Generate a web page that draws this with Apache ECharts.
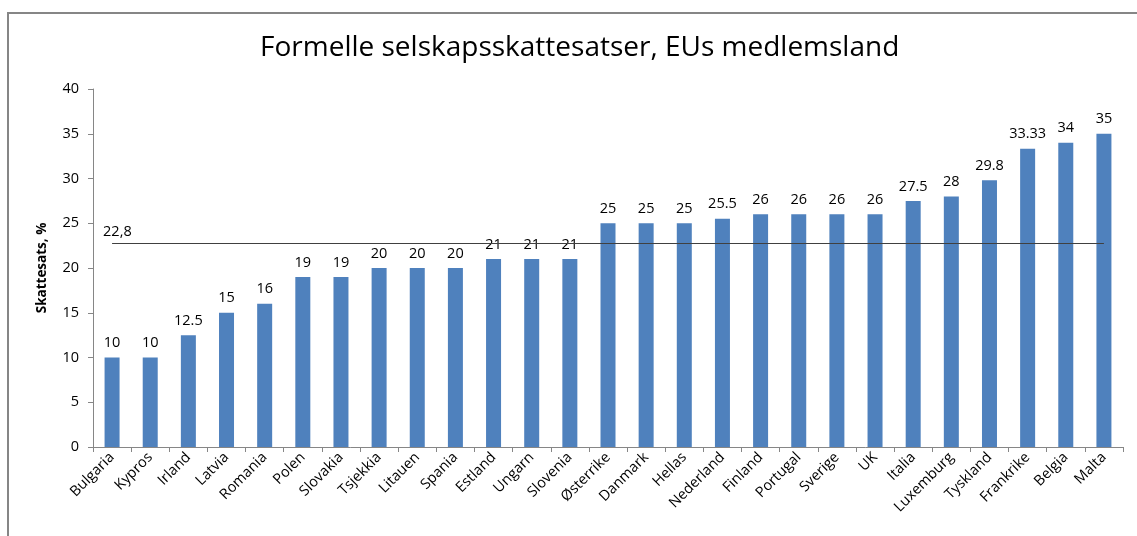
<!DOCTYPE html>
<html>
<head>
<meta charset="utf-8">
<script src="https://cdn.jsdelivr.net/npm/echarts@6/dist/echarts.min.js"></script>
<style>
  html, body { margin: 0; padding: 0; background: #fff; }
  #chart { width: 1137px; height: 536px; }
</style>
</head>
<body>
<div id="chart"></div>
<script>
  // land og formelle satser (%)
  var countries = ['Bulgaria', 'Kypros', 'Irland', 'Latvia', 'Romania', 'Polen', 'Slovakia', 'Tsjekkia',
    'Litauen', 'Spania', 'Estland', 'Ungarn', 'Slovenia', 'Østerrike', 'Danmark', 'Hellas', 'Nederland',
    'Finland', 'Portugal', 'Sverige', 'UK', 'Italia', 'Luxemburg', 'Tyskland', 'Frankrike', 'Belgia', 'Malta'];
  var rates = [10, 10, 12.5, 15, 16, 19, 19, 20, 20, 20, 21, 21, 21, 25, 25, 25, 25.5, 26, 26, 26, 26,
    27.5, 28, 29.8, 33.33, 34, 35];
  var average = 22.8;
  var averageLabel = '22,8';

  var font = 'Open Sans';
  var chart = echarts.init(document.getElementById('chart'));
  var option = {
    animation: false,
    textStyle: { fontFamily: font },
    title: {
      text: 'Formelle selskapsskattesatser, EUs medlemsland',
      left: 255,
      top: 29,
      textStyle: { fontFamily: font, fontSize: 28, fontWeight: 'normal', color: '#000' }
    },
    graphic: [{
      type: 'rect',
      shape: { x: 8, y: 13, width: 1300, height: 700 },
      style: { fill: null, stroke: '#868686', lineWidth: 2 },
      silent: true
    }],
    grid: { left: 93, right: 14, top: 89, bottom: 89 },
    xAxis: {
      type: 'category',
      data: countries,
      axisLine: { lineStyle: { color: '#868686' } },
      axisTick: { show: true, alignWithLabel: false, lineStyle: { color: '#868686' } },
      axisLabel: { rotate: 45, interval: 0, fontSize: 14.5, color: '#000', margin: 8 }
    },
    yAxis: {
      type: 'value',
      min: 0,
      max: 40,
      interval: 5,
      name: 'Skattesats, %',
      nameLocation: 'middle',
      nameGap: 44,
      nameTextStyle: { fontFamily: font, fontSize: 13.5, fontWeight: 'bold', color: '#000' },
      axisLine: { show: true, lineStyle: { color: '#868686' } },
      axisTick: { show: true, length: 5, lineStyle: { color: '#868686' } },
      axisLabel: { fontSize: 14.5, color: '#000', margin: 14 },
      splitLine: { show: false }
    },
    series: [{
      type: 'bar',
      data: rates,
      barWidth: 15,
      itemStyle: { color: '#4f81bd' },
      label: { show: true, position: 'top', distance: 7, fontSize: 14.5, color: '#000' },
      markLine: {
        symbol: 'none',
        silent: true,
        lineStyle: { color: '#404040', width: 1, type: 'solid' },
        label: {
          show: true,
          position: 'insideStartTop',
          formatter: averageLabel,
          fontSize: 14.5,
          color: '#000',
          offset: [-14, 1]
        },
        data: [[{ coord: [0, average] }, { coord: [countries.length - 1, average] }]]
      }
    }]
  };
  chart.setOption(option);
  window.addEventListener('resize', function () {
    chart.resize();
  });
</script>
</body>
</html>
